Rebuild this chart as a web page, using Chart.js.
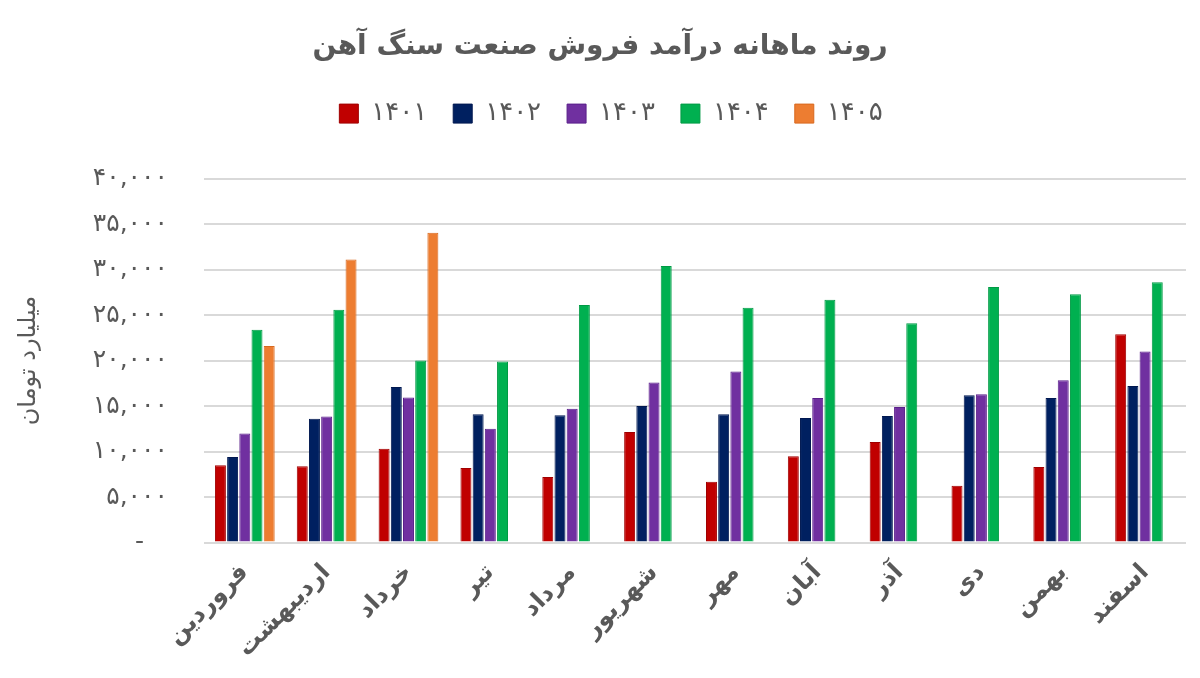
<!DOCTYPE html>
<html>
<head>
<meta charset="utf-8">
<script src="https://cdn.jsdelivr.net/npm/chart.js@4/dist/chart.umd.min.js"></script>
<style>
html,body{margin:0;padding:0;background:#fff;}
#wrap{width:1200px;height:678px;}
</style>
</head>
<body>
<div id="wrap"><canvas id="c" width="1200" height="678"></canvas></div>
<script>
const chartTitle = 'روند ماهانه درآمد فروش صنعت سنگ آهن';
const yAxisTitle = 'میلیارد تومان';
const months = ['فروردین','اردیبهشت','خرداد','تیر','مرداد','شهریور','مهر','آبان','آذر','دی','بهمن','اسفند'];
const seriesNames = ['۱۴۰۱','۱۴۰۲','۱۴۰۳','۱۴۰۴','۱۴۰۵'];
const s1401 = [8500, 8400, 10300, 8200, 7200, 12150, 6700, 9500, 11050, 6250, 8300, 22900];
const s1402 = [9400, 13600, 17100, 14100, 14000, 15000, 14100, 13700, 13900, 16200, 15900, 17200];
const s1403 = [12000, 13850, 15950, 12500, 14700, 17600, 18800, 15900, 14900, 16300, 17850, 21000];
const s1404 = [23400, 25600, 20000, 19900, 26100, 30400, 25800, 26700, 24100, 28100, 27300, 28600];
const s1405 = [21600, 31100, 34050, null, null, null, null, null, null, null, null, null];
const yTickLabels = ['-   ', '۵,۰۰۰', '۱۰,۰۰۰', '۱۵,۰۰۰', '۲۰,۰۰۰', '۲۵,۰۰۰', '۳۰,۰۰۰', '۳۵,۰۰۰', '۴۰,۰۰۰'];

const fills = ['#C00000','#002060','#7030A0','#00B050','#ED7D31'];
const borders = ['#A00000','#001850','#5A1F8A','#009A45','#D8691F'];
const allSeries = [s1401, s1402, s1403, s1404, s1405];
const FONT = '"DejaVu Sans", sans-serif';
const GREY = '#595959';

const legendTweak = {
  id: 'legendTweak',
  beforeInit(chart) {
    const lg = chart.legend;
    const origFit = lg.fit;
    lg.fit = function () {
      origFit.call(this);
      this.height += 42;
    };
    const origDraw = lg.draw;
    lg.draw = function (...args) {
      const ctx = this.ctx;
      ctx.save();
      ctx.translate(11, 0);
      origDraw.apply(this, args);
      ctx.restore();
    };
  }
};

new Chart(document.getElementById('c'), {
  type: 'bar',
  plugins: [legendTweak],
  data: {
    labels: months,
    datasets: allSeries.map((d, i) => ({
      label: seriesNames[i],
      data: d,
      backgroundColor: fills[i],
      borderColor: borders[i],
      borderWidth: 1,
      categoryPercentage: 0.745,
      barPercentage: 0.9
    }))
  },
  options: {
    responsive: false,
    animation: false,
    layout: { padding: { left: 14, right: 14, top: 0, bottom: 7 } },
    plugins: {
      title: {
        display: true, text: chartTitle, color: GREY,
        font: { family: FONT, size: 28, weight: 'bold' },
        padding: { top: 30, bottom: 11 }
      },
      legend: {
        display: true,
        labels: {
          color: GREY, font: { family: FONT, size: 26 },
          boxWidth: 19, boxHeight: 19, padding: 26
        }
      },
      tooltip: { enabled: false }
    },
    scales: {
      x: {
        grid: { display: false },
        border: { display: false },
        ticks: {
          color: GREY, font: { family: FONT, size: 24, weight: 'bold' },
          maxRotation: 45, minRotation: 45, padding: 8
        }
      },
      y: {
        min: 0, max: 40000,
        border: { display: false },
        grid: { color: '#d9d9d9', lineWidth: 2, drawTicks: false },
        title: {
          display: true, text: yAxisTitle, color: GREY,
          font: { family: FONT, size: 24 }, padding: { top: 0, bottom: 14 }
        },
        ticks: {
          stepSize: 5000, color: GREY, padding: 36,
          font: { family: FONT, size: 25 },
          callback: (v) => yTickLabels[Math.round(v / 5000)]
        }
      }
    }
  }
});
</script>
</body>
</html>
